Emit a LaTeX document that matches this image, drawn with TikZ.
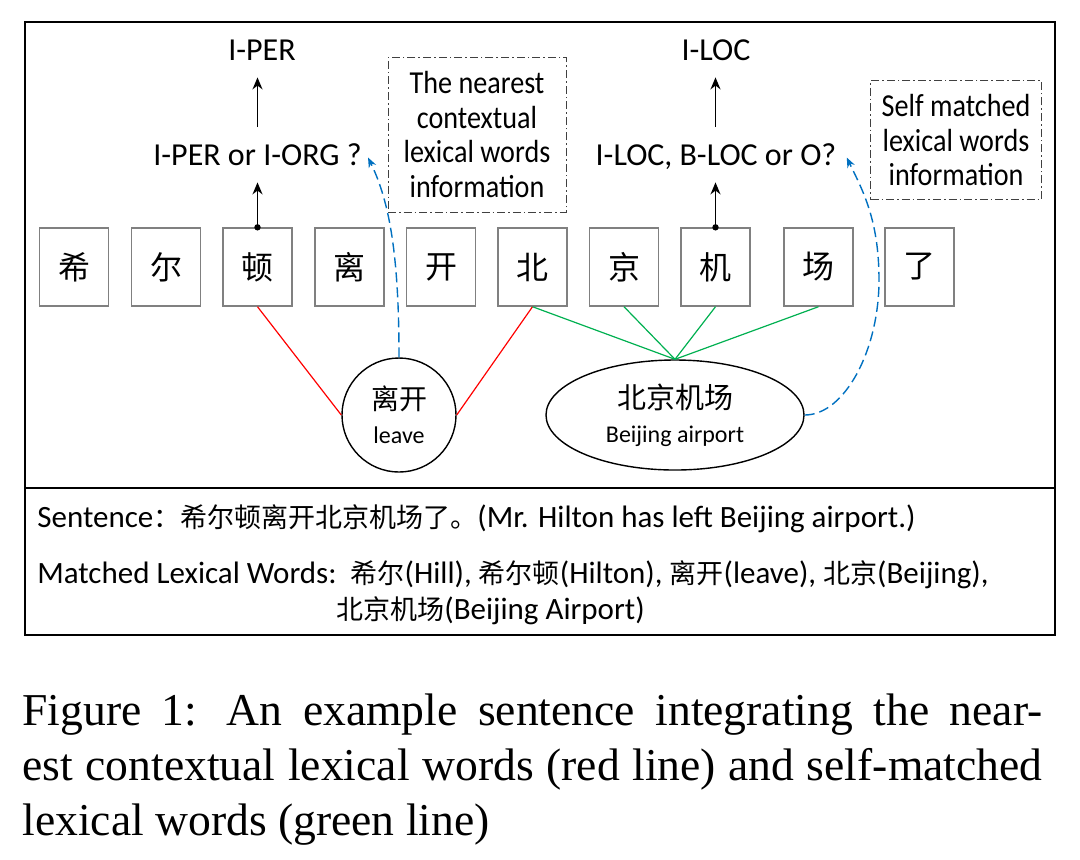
\documentclass[tikz,border=0pt]{standalone}
\usepackage{fontspec}
\setmainfont{Carlito}
\newfontfamily\cjk{Noto Sans CJK SC}
\newfontfamily\notefont[FakeStretch=0.88]{Carlito}
\newfontfamily\capfont{Liberation Serif}
\usetikzlibrary{arrows.meta,positioning,shapes.geometric}
\definecolor{nearred}{RGB}{255,0,0}
\definecolor{selfgreen}{RGB}{0,176,80}
\definecolor{infoblue}{RGB}{0,112,192}
\newcommand\zh[1]{{\cjk\fontsize{13.5}{18}\selectfont #1}}
\newcommand\tightspace{\spaceskip=.25em plus .6em minus .15em\relax}

\begin{document}
\begin{tikzpicture}[>={Stealth[length=6pt,width=5pt]},x=0.5pt,y=-0.5pt,
  chr/.style={draw=black!50,line width=0.7pt,minimum width=34.5pt,
              minimum height=39pt,inner sep=0pt,
              font=\cjk\fontsize{16}{18}\selectfont},
  tag/.style={font=\fontsize{16}{18}\selectfont,inner sep=1pt,
              text height=11pt,text depth=3pt},
  up/.style={->,line width=0.85pt},
  note/.style={draw=black!75,line width=0.5pt,
               dash pattern=on 4pt off 1.5pt on 0.8pt off 1.5pt,
               align=center,inner sep=0pt,
               font=\notefont\fontsize{16}{17.2}\selectfont},
  word/.style={draw,line width=0.7pt,align=center,inner sep=0pt,
               font=\fontsize{12}{17}\selectfont},
  nearln/.style={nearred,line width=0.6pt},
  selfln/.style={selfgreen,line width=0.6pt},
  infoln/.style={->,infoblue,line width=0.7pt,dash pattern=on 5pt off 2.5pt,
                 >={Stealth[length=5pt,width=4pt]}},
  txt/.style={font=\fontsize{15.5}{18}\selectfont,inner sep=0pt,
              anchor=base west}]
\useasboundingbox (0,0) rectangle (1080,859);
% frame and divider
\draw[line width=1.2pt] (25,22) rectangle (1055,635);
\draw[line width=1.2pt] (25,488) -- (1055,488);
% character row
\foreach \c/\x [count=\i] in {希/74,尔/166,顿/257.5,离/349.5,开/441,
    北/532.5,京/624,机/715.5,场/818.5,了/919.5}
  \node[chr] (c\i) at (\x,267) {\c};
% tags
\node[tag] (perq) at (257.5,157.5) {I-PER or I-ORG ?};
\node[tag] (per) at (262,52.5) {I-PER};
\node[tag] (locq) at (716,157.5) {I-LOC, B-LOC or O?};
\node[tag] (loc) at (716,52.5) {I-LOC};
\fill (c3.north) circle (1.6pt);
\fill (c8.north) circle (1.6pt);
\draw[up,shorten >=4.25pt] (c3.north) -- (perq.south);
\draw[up,shorten >=4.25pt] (c8.north) -- (c8.north |- locq.south);
\draw[up,shorten <=7pt,shorten >=4.25pt]
  (perq.north) -- (perq.north |- per.south);
\draw[up,shorten <=7pt,shorten >=4.25pt]
  (c8.north |- locq.north) -- (c8.north |- loc.south);
% notes
\node[note,minimum width=89pt,minimum height=77.5pt] (nearnote) at (477,134.5)
  {The nearest\\contextual\\lexical words\\information};
\node[note,minimum width=85.5pt,minimum height=59.5pt] (selfnote) at (956,140)
  {Self matched\\lexical words\\information};
% lexical words
\node[word,circle,minimum size=57pt] (leave) at (399,415)
  {{\cjk\fontsize{14}{17}\selectfont 离开}\\leave};
\node[word,ellipse,minimum width=129pt,minimum height=55pt] (air) at (675,415)
  {{\cjk\fontsize{14.5}{17}\selectfont 北京机场}\\Beijing airport};
\draw[nearln] (c3.south) -- (leave.west);
\draw[nearln] (c6.south) -- (leave.east);
\foreach \i in {6,7,8,9}
  \draw[selfln] (c\i.south) -- (air.north);
\draw[infoln] (leave.north) .. controls +(0,-100) and +(22,45) ..
  ([xshift=2pt]perq.east);
\draw[infoln] (air.east) .. controls +(40,0) and +(0,70) .. (879,280)
  .. controls +(0,-60) and +(16,33) .. ([xshift=4pt]locq.east);
% sentence and matched words
\node[txt] (sent) at (37,527)
  {Sentence\zh{：希尔顿离开北京机场了。}(Mr. Hilton has left Beijing airport.)};
\node[txt] (match) at (37,583)
  {Matched Lexical Words:\ \ \zh{希尔}(Hill), \zh{希尔顿}(Hilton),
   \zh{离开}(leave), \zh{北京}(Beijing),};
\node[txt] (match2) at (336,619) {\zh{北京机场}(Beijing Airport)};
% caption
\node[anchor=north west,inner sep=0pt,text width=510pt,align=left,
      font=\capfont\fontsize{22.8}{27.5}\selectfont] (capt) at (22,693)
  {\tightspace
   \makebox[510pt][s]{Figure 1:\hskip.45em plus .6em An example sentence integrating the near-}\\
   \makebox[510pt][s]{est contextual lexical words (red line) and self-matched}\\
   lexical words (green line)};
\end{tikzpicture}
\end{document}
